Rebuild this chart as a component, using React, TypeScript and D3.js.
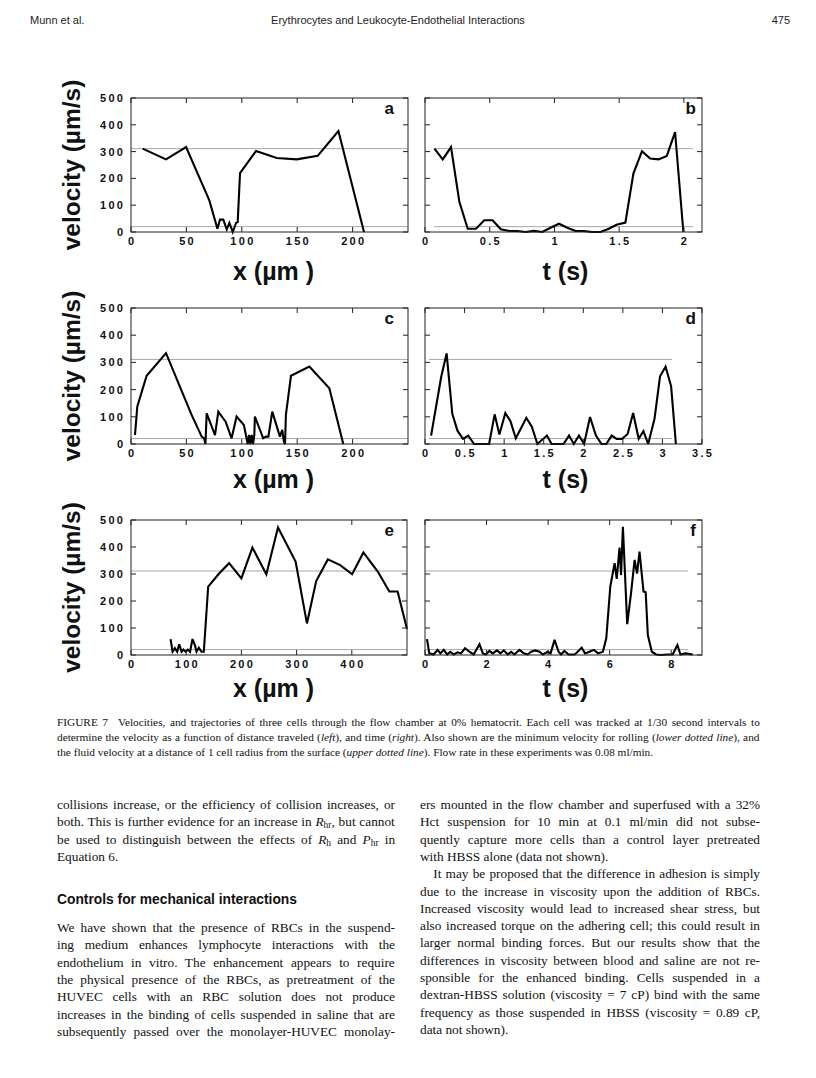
import React from 'react';
import * as d3 from 'd3';

const W = 816;
const H = 1078;

// ---------- data ----------
const aX = [10.5, 31.6, 49.7, 70.7, 78, 80.3, 83.3, 86.4, 88.8, 91.8, 94.8, 96.3, 98.4, 112.8, 131.5, 149.6, 168.5, 187.2, 210.3];
const aV = [311, 271, 317, 118, 12, 46, 46, 10, 34, 0, 34, 37, 220, 302, 276, 271, 284, 377, 0];

const bT = [0.073, 0.137, 0.201, 0.265, 0.33, 0.394, 0.458, 0.522, 0.586, 0.65, 0.714, 0.778, 0.842, 0.906, 0.97, 1.035, 1.099, 1.163, 1.227, 1.29, 1.355, 1.42, 1.48, 1.548, 1.61, 1.676, 1.74, 1.804, 1.868, 1.932, 1.996];
const bV = [311, 271, 317, 114, 12, 12, 44, 44, 10, 4, 4, 0, 4, 0, 16, 31, 16, 4, 4, 0, 0, 12, 27, 35, 218, 301, 274, 271, 284, 373, 0];

const cX = [3.6, 5.7, 14.1, 31.6, 54.7, 63.8, 65.9, 67.2, 68.3, 75.8, 78.8, 85.4, 90.8, 95.3, 101.9, 105.3, 106.5, 107.7, 108.9, 110.1, 111.3, 111.8, 119.3, 121.8, 124, 127.5, 134.4, 136.5, 138, 139, 139.8, 144.4, 161, 179, 191.6];
const cV = [33, 138, 251, 334, 107, 27, 21, 0, 113, 33, 119, 82, 21, 101, 70, 0, 33, 0, 33, 0, 33, 101, 21, 27, 27, 119, 27, 52, 9, 0, 107, 251, 285, 205, 0];

const dT = [0.077, 0.205, 0.273, 0.345, 0.41, 0.48, 0.546, 0.62, 0.77, 0.81, 0.88, 0.94, 1.015, 1.08, 1.147, 1.21, 1.28, 1.35, 1.42, 1.54, 1.6, 1.75, 1.82, 1.88, 1.945, 2.01, 2.085, 2.16, 2.23, 2.29, 2.36, 2.42, 2.49, 2.56, 2.63, 2.7, 2.76, 2.82, 2.9, 2.97, 3.04, 3.11, 3.17];
const dV = [31, 247, 333, 111, 49, 19, 31, 0, 0, 0, 109, 35, 114, 84, 21, 56, 96, 64, 0, 31, 0, 0, 31, 0, 31, 0, 99, 31, 0, 0, 31, 19, 19, 37, 114, 19, 47, 0, 93, 249, 284, 212, 0];

const eX = [71.7, 75.3, 79.5, 83.7, 87.3, 91.6, 95, 99, 103, 107, 111.4, 115.7, 118.7, 122.9, 127.7, 131.9, 139.8, 159.6, 177.7, 200, 219.9, 245.2, 266.3, 298.2, 318.7, 335.5, 356.6, 378.9, 400.6, 421, 447, 468, 483, 500];
const eV = [59, 12, 25, 12, 40, 12, 20, 12, 20, 12, 59, 37, 12, 27, 12, 12, 253, 302, 340, 284, 398, 299, 472, 346, 117, 274, 354, 333, 299, 380, 309, 235, 235, 96];

const fT = [0.065, 0.14, 0.28, 0.41, 0.5, 0.61, 0.72, 0.82, 0.93, 1.06,
  1.17, 1.3, 1.44, 1.58, 1.77, 1.88, 1.98, 2.09, 2.2, 2.34,
  2.45, 2.56, 2.69, 2.8, 2.9, 3.07, 3.21, 3.34, 3.45, 3.58,
  3.72, 3.83, 3.99, 4.08, 4.21, 4.34, 4.42, 4.53, 4.66, 4.86,
  4.96, 5.09, 5.2, 5.34, 5.49, 5.62, 5.78, 5.89, 6.02, 6.16,
  6.23, 6.32, 6.37, 6.43, 6.57, 6.7, 6.81, 6.89, 6.97, 7.1,
  7.17, 7.24, 7.37, 7.51, 7.65, 7.89, 8.05, 8.2, 8.3, 8.46,
  8.7];
const fV = [59, 6, 2, 19, 6, 19, 2, 12, 2, 10,
  6, 25, 12, 2, 40, 6, 2, 15, 6, 17,
  6, 17, 2, 12, 2, 19, 6, 2, 12, 17,
  12, 2, 12, 6, 56, 12, 2, 15, 2, 2,
  12, 27, 6, 12, 19, 6, 12, 62, 253, 340,
  282, 398, 296, 475, 114, 235, 352, 302, 383, 235,
  232, 74, 12, 2, 0, 2, 2, 37, 2, 6,
  2];

// reference (dotted) lines: fluid velocity and minimum rolling velocity
const refUpper = 311;
const refLower = 20;

// ticks
const velTicks = [0, 100, 200, 300, 400, 500];
const xTicksAC = [0, 50, 100, 150, 200];
const tTicksB = [0, 0.5, 1, 1.5, 2];
const tTicksD = [0, 0.5, 1, 1.5, 2, 2.5, 3, 3.5];
const xTicksE = [0, 100, 200, 300, 400];
const tTicksF = [0, 2, 4, 6, 8];

const SANS = "'Liberation Sans', Arial, Helvetica, sans-serif";
const SERIF = "'Liberation Serif', 'Times New Roman', Times, serif";

type PanelProps = {
  x0: number; x1: number; y0: number; y1: number;
  xDomain: [number, number];
  xTicks: number[];
  xs: number[]; vs: number[];
  showY: boolean;
  letter: string;
  letterX: number;
  refSpan: [number, number];
};

function Panel(p: PanelProps) {
  const x = d3.scaleLinear().domain(p.xDomain).range([p.x0, p.x1]);
  const y = d3.scaleLinear().domain([0, 500]).range([p.y1, p.y0]);
  const pts: [number, number][] = p.xs.map((v, i) => [v, p.vs[i]]);
  const line = d3.line<[number, number]>().x(d => x(d[0])).y(d => y(d[1]));
  const tl = 5;
  return (
    <g>
      {[refUpper, refLower].map((r, i) => (
        <line key={'r' + i} x1={x(p.refSpan[0])} x2={x(p.refSpan[1])} y1={y(r)} y2={y(r)}
          stroke="#a8a8a8" strokeWidth={1} />
      ))}
      <path d={line(pts) || ''} fill="none" stroke="#000" strokeWidth={2.1} strokeLinejoin="miter" strokeMiterlimit={3} />
      <rect x={p.x0} y={p.y0} width={p.x1 - p.x0} height={p.y1 - p.y0} fill="none" stroke="#222" strokeWidth={1} />
      {velTicks.map(t => (
        <g key={'yt' + t}>
          <line x1={p.x0} x2={p.x0 + tl} y1={y(t)} y2={y(t)} stroke="#222" />
          <line x1={p.x1} x2={p.x1 - tl} y1={y(t)} y2={y(t)} stroke="#222" />
          {p.showY && (
            <text x={p.x0 - 8} dx={2.3} y={y(t)} dy="0.36em" textAnchor="end" fontFamily={SANS}
              fontWeight="bold" fontSize={11} letterSpacing={2.3} fill="#111">{t}</text>
          )}
        </g>
      ))}
      {p.xTicks.map(t => (
        <g key={'xt' + t}>
          <line x1={x(t)} x2={x(t)} y1={p.y1} y2={p.y1 - tl} stroke="#222" />
          <line x1={x(t)} x2={x(t)} y1={p.y0} y2={p.y0 + tl} stroke="#222" />
          <text x={x(t)} dx={1.2} y={p.y1 + 13} textAnchor="middle" fontFamily={SANS}
            fontWeight="bold" fontSize={11} letterSpacing={2.3} fill="#111">{String(t)}</text>
        </g>
      ))}
      <text x={p.letterX} y={p.y0 + 16} textAnchor="end" fontFamily={SANS} fontWeight="bold" fontSize={17} fill="#111">{p.letter}</text>
    </g>
  );
}

type Seg = string | { i: string } | { sub: string };

let measureCtx: CanvasRenderingContext2D | null = null;
function measure(text: string, size: number, italic: boolean): number {
  if (typeof document === 'undefined') return text.length * size * 0.45;
  if (!measureCtx) measureCtx = document.createElement('canvas').getContext('2d');
  if (!measureCtx) return text.length * size * 0.45;
  measureCtx.font = `${italic ? 'italic ' : ''}${size}px 'Liberation Serif'`;
  return measureCtx.measureText(text).width;
}

function lineMetrics(segs: Seg[], size: number) {
  let w = 0;
  let spaces = 0;
  for (const s of segs) {
    let t: string;
    if (typeof s === 'string') { t = s; w += measure(t, size, false); }
    else if ('i' in s) { t = s.i; w += measure(t, size, true); }
    else { t = s.sub; w += measure(t, size * 0.72, false); }
    spaces += (t.match(/ /g) || []).length;
  }
  return { w, spaces };
}

function renderSegs(segs: Seg[]) {
  return segs.map((s, k) => {
    if (typeof s === 'string') return <tspan key={k}>{s}</tspan>;
    if ('i' in s) return <tspan key={k} fontStyle="italic">{s.i}</tspan>;
    return <tspan key={k} fontSize="0.72em" baselineShift="-18%">{s.sub}</tspan>;
  });
}

function TextLine({ x, y, width, segs, size, justify }: { x: number; y: number; width: number; segs: Seg[]; size: number; justify: boolean }) {
  let ws = 0;
  if (justify) {
    const m = lineMetrics(segs, size);
    if (m.spaces > 0) ws = (width - m.w) / m.spaces;
  }
  return (
    <text x={x} y={y} fontFamily={SERIF} fontSize={size} fill="#111" wordSpacing={ws} style={{ whiteSpace: 'pre' }}>
      {renderSegs(segs)}
    </text>
  );
}

const captionLines: Seg[][] = [
  ['FIGURE 7\u2002 Velocities, and trajectories of three cells through the flow chamber at 0% hematocrit. Each cell was tracked at 1/30 second intervals to'],
  ['determine the velocity as a function of distance traveled (', { i: 'left' }, '), and time (', { i: 'right' }, '). Also shown are the minimum velocity for rolling (', { i: 'lower dotted line' }, '), and'],
  ['the fluid velocity at a distance of 1 cell radius from the surface (', { i: 'upper dotted line' }, '). Flow rate in these experiments was 0.08 ml/min.'],
];

const leftTop: Seg[][] = [
  ['collisions increase, or the efficiency of collision increases, or'],
  ['both. This is further evidence for an increase in ', { i: 'R' }, { sub: 'hr' }, ', but cannot'],
  ['be used to distinguish between the effects of ', { i: 'R' }, { sub: 'h' }, ' and ', { i: 'P' }, { sub: 'hr' }, ' in'],
  ['Equation 6.'],
];
const leftBottom: Seg[][] = [
  ['We have shown that the presence of RBCs in the suspend-'],
  ['ing medium enhances lymphocyte interactions with the'],
  ['endothelium in vitro. The enhancement appears to require'],
  ['the physical presence of the RBCs, as pretreatment of the'],
  ['HUVEC cells with an RBC solution does not produce'],
  ['increases in the binding of cells suspended in saline that are'],
  ['subsequently passed over the monolayer-HUVEC monolay-'],
];
const rightCol: Seg[][] = [
  ['ers mounted in the flow chamber and superfused with a 32%'],
  ['Hct suspension for 10 min at 0.1 ml/min did not subse-'],
  ['quently capture more cells than a control layer pretreated'],
  ['with HBSS alone (data not shown).'],
  ['\u2003It may be proposed that the difference in adhesion is simply'],
  ['due to the increase in viscosity upon the addition of RBCs.'],
  ['Increased viscosity would lead to increased shear stress, but'],
  ['also increased torque on the adhering cell; this could result in'],
  ['larger normal binding forces. But our results show that the'],
  ['differences in viscosity between blood and saline are not re-'],
  ['sponsible for the enhanced binding. Cells suspended in a'],
  ['dextran-HBSS solution (viscosity = 7 cP) bind with the same'],
  ['frequency as those suspended in HBSS (viscosity = 0.89 cP,'],
  ['data not shown).'],
];
const rightLast = new Set([3, 13]);

export default function App() {
  const LX0 = 131, LX1 = 408, RX0 = 425, RX1 = 702;
  const rows = [
    { y0: 98, y1: 232, xl: 280 },
    { y0: 308, y1: 444, xl: 488 },
    { y0: 520, y1: 655, xl: 697 },
  ];
  const bodySize = 13.3;
  const step = 17.3;
  return (
    <svg width={W} height={H} style={{ position: 'absolute', left: 0, top: 0, background: '#fff' }}>
      <rect width={W} height={H} fill="#fff" />
      <text x={30} y={24} fontFamily={SANS} fontSize={11} fill="#222">Munn et al.</text>
      <text x={398} y={24} textAnchor="middle" fontFamily={SANS} fontSize={11} fill="#222">Erythrocytes and Leukocyte-Endothelial Interactions</text>
      <text x={790} y={24} textAnchor="end" fontFamily={SANS} fontSize={11} fill="#222">475</text>

      <Panel x0={LX0} x1={LX1} y0={rows[0].y0} y1={rows[0].y1} xDomain={[0, 250]} xTicks={xTicksAC}
        xs={aX} vs={aV} showY letter="a" letterX={394} refSpan={[0, 250]} />
      <Panel x0={RX0} x1={RX1} y0={rows[0].y0} y1={rows[0].y1} xDomain={[0, 2.14]} xTicks={tTicksB}
        xs={bT} vs={bV} showY={false} letter="b" letterX={696} refSpan={[0.07, 2.07]} />
      <Panel x0={LX0} x1={LX1} y0={rows[1].y0} y1={rows[1].y1} xDomain={[0, 250]} xTicks={xTicksAC}
        xs={cX} vs={cV} showY letter="c" letterX={394} refSpan={[0, 250]} />
      <Panel x0={RX0} x1={RX1} y0={rows[1].y0} y1={rows[1].y1} xDomain={[0, 3.5]} xTicks={tTicksD}
        xs={dT} vs={dV} showY={false} letter="d" letterX={696} refSpan={[0.05, 3.12]} />
      <Panel x0={LX0} x1={LX1 - 1} y0={rows[2].y0} y1={rows[2].y1} xDomain={[0, 500]} xTicks={xTicksE}
        xs={eX} vs={eV} showY letter="e" letterX={394} refSpan={[0, 500]} />
      <Panel x0={RX0} x1={RX1} y0={rows[2].y0} y1={rows[2].y1} xDomain={[0, 9]} xTicks={tTicksF}
        xs={fT} vs={fV} showY={false} letter="f" letterX={696} refSpan={[0, 8.55]} />

      {rows.map((r, i) => (
        <g key={'lab' + i}>
          <text transform={`translate(80, ${(r.y0 + r.y1) / 2}) rotate(-90)`} textAnchor="middle"
            fontFamily={SANS} fontWeight="bold" fontSize={24.5} fill="#111">velocity (µm/s)</text>
          <text x={(LX0 + LX1) / 2 + 4} y={r.xl} textAnchor="middle" fontFamily={SANS} fontWeight="bold" fontSize={25} fill="#111">x (µm )</text>
          <text x={(RX0 + RX1) / 2 + 2} y={r.xl} textAnchor="middle" fontFamily={SANS} fontWeight="bold" fontSize={25} fill="#111">t (s)</text>
        </g>
      ))}

      {captionLines.map((l, i) => (
        <TextLine key={'c' + i} x={57} y={725.5 + i * 15} width={703} segs={l} size={11.3} justify={i < 2} />
      ))}

      {leftTop.map((l, i) => (
        <TextLine key={'lt' + i} x={57} y={809 + i * step} width={338} segs={l} size={bodySize} justify={i < 3} />
      ))}
      <text x={57} y={904} fontFamily={SANS} fontWeight="bold" fontSize={13.8} fill="#111">Controls for mechanical interactions</text>
      {leftBottom.map((l, i) => (
        <TextLine key={'lb' + i} x={57} y={932 + i * step} width={338} segs={l} size={bodySize} justify />
      ))}

      {rightCol.map((l, i) => (
        <TextLine key={'rc' + i} x={420} y={809 + i * step} width={340} segs={l} size={bodySize} justify={!rightLast.has(i)} />
      ))}
    </svg>
  );
}
